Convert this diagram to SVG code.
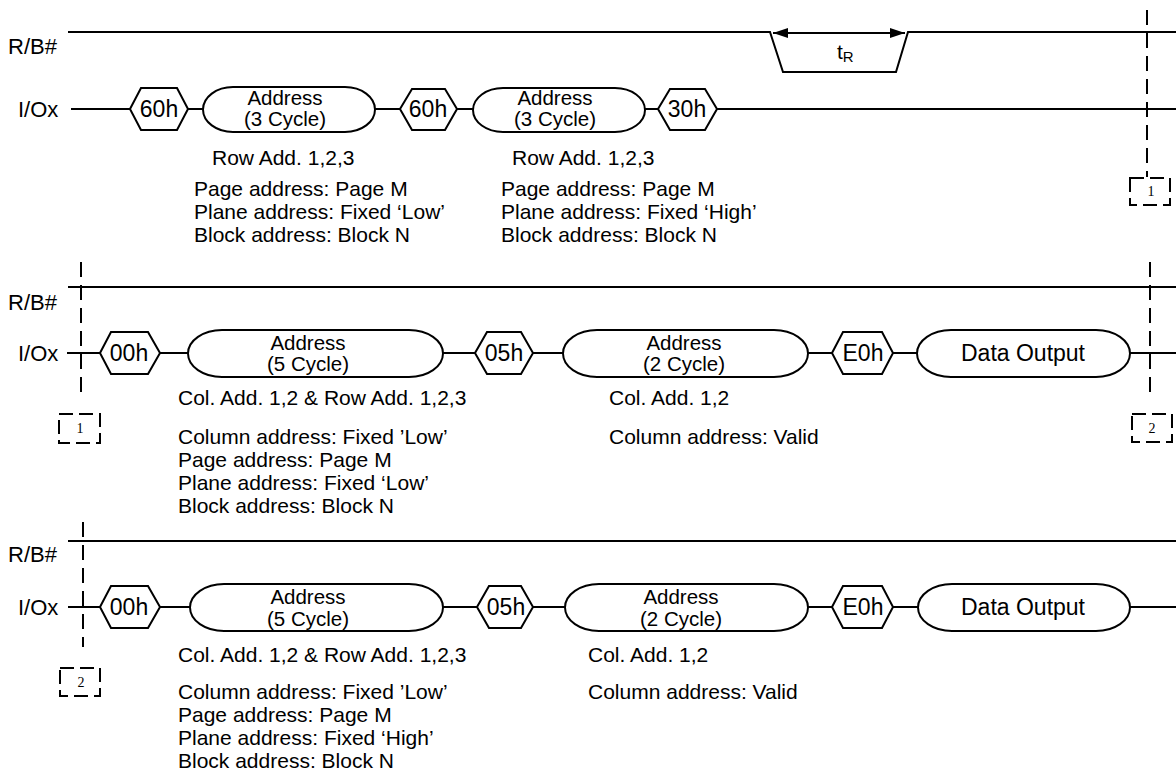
<svg xmlns="http://www.w3.org/2000/svg" width="1176" height="774" viewBox="0 0 1176 774">
<defs>
<style>
.ln{stroke:#000;stroke-width:2;fill:none}
.sh{stroke:#000;stroke-width:2;fill:#fff}
.dash{stroke:#000;stroke-width:2;stroke-dasharray:15 8;fill:none}
.box{stroke:#000;stroke-width:2;stroke-dasharray:14 6;fill:none}
text{font-family:"Liberation Sans",Arial,sans-serif;fill:#000}
.lbl{font-size:22px}
.hx{font-size:23px;text-anchor:middle}
.pl{font-size:20.5px;text-anchor:middle}
.dt{font-size:23px;text-anchor:middle}
.note{font-size:21px}
.num{font-family:"Liberation Serif","Times New Roman",serif;font-size:14px;text-anchor:middle;fill:#000}
</style>
<marker id="ah" viewBox="0 0 15 10" refX="15" refY="5" markerWidth="15" markerHeight="10" markerUnits="userSpaceOnUse" orient="auto-start-reverse">
<path d="M0,0 L15,5 L0,10 Z" fill="#000"/>
</marker>
</defs>
<rect width="1176" height="774" fill="#fff"/>

<g id="connectors">
<!-- row 1 -->
<polyline class="ln" points="68,32 770,32 783,72 896,72 908,32 1176,32"/>
<line class="ln" x1="773" y1="33" x2="905" y2="33" marker-start="url(#ah)" marker-end="url(#ah)"/>
<line class="ln" x1="71" y1="109" x2="130" y2="109"/>
<line class="ln" x1="188" y1="109" x2="203" y2="109"/>
<line class="ln" x1="375" y1="109" x2="400" y2="109"/>
<line class="ln" x1="457" y1="109" x2="473" y2="109"/>
<line class="ln" x1="645" y1="109" x2="658" y2="109"/>
<line class="ln" x1="717" y1="109" x2="1176" y2="109"/>
<line class="dash" x1="1147" y1="10" x2="1147" y2="177"/>
<!-- row 2 -->
<line class="ln" x1="68" y1="287" x2="1176" y2="287"/>
<line class="ln" x1="67" y1="353" x2="100" y2="353"/>
<line class="ln" x1="160" y1="353" x2="188" y2="353"/>
<line class="ln" x1="443" y1="353" x2="475" y2="353"/>
<line class="ln" x1="533" y1="353" x2="563" y2="353"/>
<line class="ln" x1="808" y1="353" x2="832" y2="353"/>
<line class="ln" x1="893" y1="353" x2="917" y2="353"/>
<line class="ln" x1="1130" y1="353" x2="1176" y2="353"/>
<line class="dash" x1="81" y1="262" x2="81" y2="396"/>
<line class="dash" x1="1150" y1="262" x2="1150" y2="397"/>
<!-- row 3 -->
<line class="ln" x1="68" y1="541" x2="1176" y2="541"/>
<line class="ln" x1="68" y1="607" x2="100" y2="607"/>
<line class="ln" x1="160" y1="607" x2="190" y2="607"/>
<line class="ln" x1="443" y1="607" x2="477" y2="607"/>
<line class="ln" x1="533" y1="607" x2="565" y2="607"/>
<line class="ln" x1="808" y1="607" x2="832" y2="607"/>
<line class="ln" x1="893" y1="607" x2="918" y2="607"/>
<line class="ln" x1="1130" y1="607" x2="1176" y2="607"/>
<line class="dash" x1="83" y1="522" x2="83" y2="647"/>
</g>

<g id="labels">
<text class="lbl" x="8" y="54">R/B#</text>
<text class="lbl" x="18" y="117">I/Ox</text>
<text class="lbl" x="8" y="310">R/B#</text>
<text class="lbl" x="18" y="361">I/Ox</text>
<text class="lbl" x="8" y="562">R/B#</text>
<text class="lbl" x="18" y="615">I/Ox</text>
<text x="837" y="59" font-size="21">t<tspan font-size="15" dy="3">R</tspan></text>
</g>

<!-- Row 1 nodes -->
<g id="r1-cmd60a"><polygon class="sh" points="130,109 141,88 177,88 188,109 177,130 141,130"/><text class="hx" x="159" y="117">60h</text></g>
<g id="r1-addr1"><rect class="sh" x="203" y="87" width="172" height="45" rx="30" ry="22.5"/><text class="pl" x="285" y="105">Address</text><text class="pl" x="285" y="126">(3 Cycle)</text></g>
<g id="r1-cmd60b"><polygon class="sh" points="400,109 412,89 445,89 457,109 445,130 412,130"/><text class="hx" x="428" y="117">60h</text></g>
<g id="r1-addr2"><rect class="sh" x="473" y="88" width="172" height="44" rx="30" ry="22"/><text class="pl" x="555" y="105">Address</text><text class="pl" x="555" y="126">(3 Cycle)</text></g>
<g id="r1-cmd30"><polygon class="sh" points="658,109 670,89 705,89 717,109 705,130 670,130"/><text class="hx" x="687" y="117">30h</text></g>
<g id="r1-notes1">
<text class="note" x="212" y="165">Row Add. 1,2,3</text>
<text class="note" x="194" y="196">Page address: Page M</text>
<text class="note" x="194" y="219">Plane address: Fixed ‘Low’</text>
<text class="note" x="194" y="242">Block address: Block N</text>
</g>
<g id="r1-notes2">
<text class="note" x="512" y="165">Row Add. 1,2,3</text>
<text class="note" x="501" y="196">Page address: Page M</text>
<text class="note" x="501" y="219">Plane address: Fixed ‘High’</text>
<text class="note" x="501" y="242">Block address: Block N</text>
</g>
<g id="off1-top"><rect class="box" x="1130" y="178" width="40" height="27"/><text class="num" x="1151" y="196">1</text></g>

<!-- Row 2 nodes -->
<g id="off1-left"><rect class="box" x="59" y="414" width="41" height="29"/><text class="num" x="80" y="433">1</text></g>
<g id="r2-cmd00"><polygon class="sh" points="100,353 111,332 148,332 160,353 148,374 111,374"/><text class="hx" x="129" y="361">00h</text></g>
<g id="r2-addr5"><rect class="sh" x="188" y="330" width="255" height="47" rx="34" ry="23.5"/><text class="pl" x="308" y="350">Address</text><text class="pl" x="308" y="371">(5 Cycle)</text></g>
<g id="r2-cmd05"><polygon class="sh" points="475,353 487,332 521,332 533,353 521,374 487,374"/><text class="hx" x="504" y="361">05h</text></g>
<g id="r2-addr2"><rect class="sh" x="563" y="330" width="245" height="47" rx="34" ry="23.5"/><text class="pl" x="684" y="350">Address</text><text class="pl" x="684" y="371">(2 Cycle)</text></g>
<g id="r2-cmdE0"><polygon class="sh" points="832,353 843,332 882,332 893,353 882,374 843,374"/><text class="hx" x="863" y="361">E0h</text></g>
<g id="r2-data"><rect class="sh" x="917" y="330" width="213" height="47" rx="34" ry="23.5"/><text class="dt" x="1023" y="361">Data Output</text></g>
<g id="off2-right"><rect class="box" x="1132" y="414" width="40" height="28"/><text class="num" x="1152" y="433">2</text></g>
<g id="r2-notes1">
<text class="note" x="178" y="405">Col. Add. 1,2 &amp; Row Add. 1,2,3</text>
<text class="note" x="178" y="444">Column address: Fixed ’Low’</text>
<text class="note" x="178" y="467">Page address: Page M</text>
<text class="note" x="178" y="490">Plane address: Fixed ‘Low’</text>
<text class="note" x="178" y="513">Block address: Block N</text>
</g>
<g id="r2-notes2">
<text class="note" x="609" y="405">Col. Add. 1,2</text>
<text class="note" x="609" y="444">Column address: Valid</text>
</g>

<!-- Row 3 nodes -->
<g id="off2-left"><rect class="box" x="60" y="668" width="40" height="28"/><text class="num" x="81" y="687">2</text></g>
<g id="r3-cmd00"><polygon class="sh" points="100,607 111,586 148,586 160,607 148,628 111,628"/><text class="hx" x="129" y="615">00h</text></g>
<g id="r3-addr5"><rect class="sh" x="190" y="584" width="253" height="47" rx="34" ry="23.5"/><text class="pl" x="308" y="604">Address</text><text class="pl" x="308" y="626">(5 Cycle)</text></g>
<g id="r3-cmd05"><polygon class="sh" points="477,607 489,586 521,586 533,607 521,628 489,628"/><text class="hx" x="506" y="615">05h</text></g>
<g id="r3-addr2"><rect class="sh" x="565" y="584" width="243" height="47" rx="34" ry="23.5"/><text class="pl" x="681" y="604">Address</text><text class="pl" x="681" y="626">(2 Cycle)</text></g>
<g id="r3-cmdE0"><polygon class="sh" points="832,607 843,586 882,586 893,607 882,628 843,628"/><text class="hx" x="863" y="615">E0h</text></g>
<g id="r3-data"><rect class="sh" x="918" y="584" width="212" height="47" rx="34" ry="23.5"/><text class="dt" x="1023" y="615">Data Output</text></g>
<g id="r3-notes1">
<text class="note" x="178" y="662">Col. Add. 1,2 &amp; Row Add. 1,2,3</text>
<text class="note" x="178" y="699">Column address: Fixed ’Low’</text>
<text class="note" x="178" y="722">Page address: Page M</text>
<text class="note" x="178" y="745">Plane address: Fixed ‘High’</text>
<text class="note" x="178" y="768">Block address: Block N</text>
</g>
<g id="r3-notes2">
<text class="note" x="588" y="662">Col. Add. 1,2</text>
<text class="note" x="588" y="699">Column address: Valid</text>
</g>
</svg>
